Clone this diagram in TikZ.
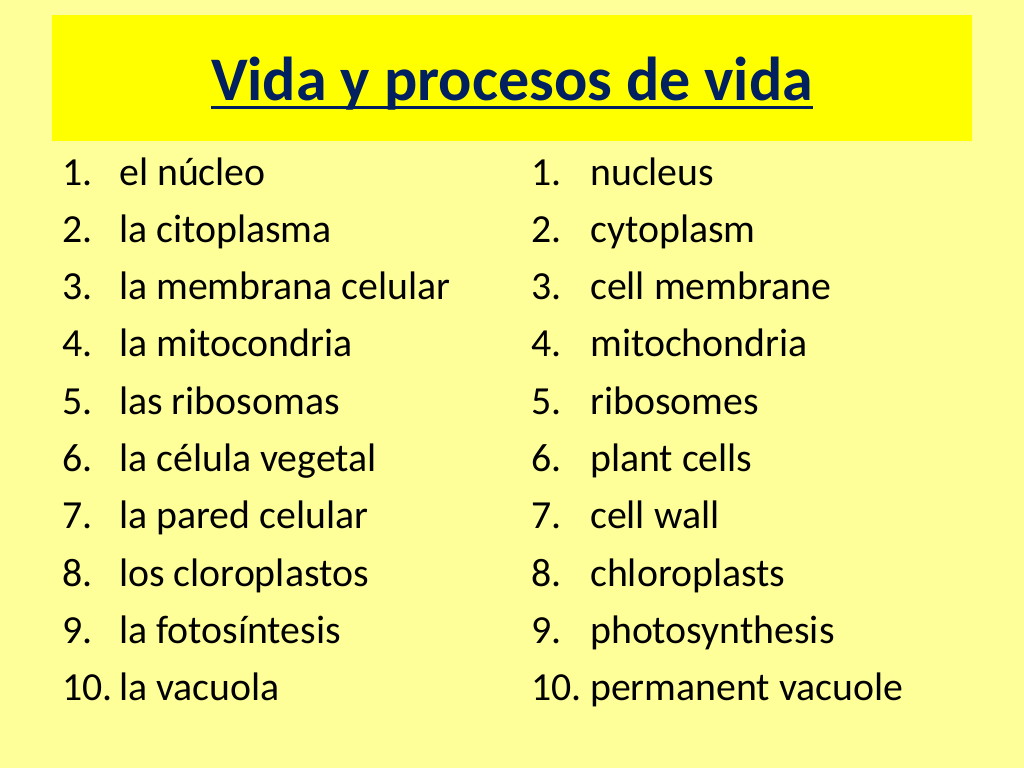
\documentclass[tikz,border=0pt]{standalone}
\usepackage{fontspec}
\setmainfont{Carlito}
\definecolor{bg}{RGB}{255,255,153}
\definecolor{band}{RGB}{255,255,0}
\definecolor{ttl}{RGB}{0,32,96}
\begin{document}
\begin{tikzpicture}[x=1pt,y=-1pt,
  item/.style={anchor=base west,inner sep=0pt,font=\fontsize{39.8}{44}\selectfont},
  ttlstyle/.style={anchor=base,inner sep=0pt,text=ttl,font=\bfseries\fontsize{62}{70}\selectfont}]
\fill[bg] (0,0) rectangle (1024,768);
\useasboundingbox (0,0) rectangle (1024,768);
\fill[band] (52,15) rectangle (972,141);
\node[ttlstyle] (title) at (512,100) {Vida y procesos de vida};
\draw[ttl,line width=3pt] (title.base west) ++(0,7) -- ([yshift=-7pt]title.base east);
\foreach \n/\es/\en [count=\i from 0] in {
 1/el núcleo/nucleus,
 2/la citoplasma/cytoplasm,
 3/la membrana celular/cell membrane,
 4/la mitocondria/mitochondria,
 5/las ribosomas/ribosomes,
 6/la célula vegetal/plant cells,
 7/la pared celular/cell wall,
 8/los cloroplastos/chloroplasts,
 9/la fotosíntesis/photosynthesis,
 10/la vacuola/permanent vacuole}{
  \node[item] (ln\i) at (62,{185+57.3*\i}) {\n.};
  \node[item] (le\i) at (119,{185+57.3*\i}) {\es};
  \node[item] (rn\i) at (531,{185+57.3*\i}) {\n.};
  \node[item] (re\i) at (590,{185+57.3*\i}) {\en};
}
\end{tikzpicture}
\end{document}
